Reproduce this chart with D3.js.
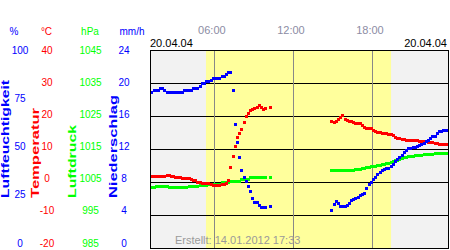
<!DOCTYPE html>
<html>
<head>
<meta charset="utf-8">
<script src="https://d3js.org/d3.v7.min.js"></script>
<style>
body { margin: 0; background: #fff; }
svg { display: block; font-family: "Liberation Sans", Arial, sans-serif; }
</style>
</head>
<body>
<svg width="450" height="250"></svg>
<script>
// first sample of each block (hours), samples every 10 min
let blockStart = [1.25, 14 + 55 / 60];
let stepHours = 1 / 6;

let humidityAm = [78.6, 79.6, 79.6, 79.6, 80.7, 80.7, 79.8, 78.6, 78.6, 78.6,
                  78.6, 78.6, 78.6, 78.6, 78.6, 79.6, 79.6, 79.6, 79.6, 80.8,
                  80.8, 80.8, 82.0, 83.5, 83.5, 84.5, 84.5, 84.8, 85.7, 86.0,
                  86.0, 86.0, 87.0, 87.0, 87.9, 88.7, 88.7, 79.8, 62.6, 53.5,
                  46.0, 39.4, 36.1, 33.8, 31.1, 28.8, 25.3, 23.2, 23.0, 21.7,
                  20.7, 20.7, 20.6, null, 21.2];
let humidityPm = [19.2, 22.2, 23.5, 22.7, 21.2, 21.2, 21.2, 21.5, 22.7, 24.2,
                  25.0, 25.5, 26.0, 26.8, 27.3, 27.8, 30.3, 32.1, 33.3, 34.6,
                  35.9, 37.4, 38.6, 39.4, 39.9, 40.2, 40.4, 41.2, 42.4, 43.7,
                  44.9, 46.0, 47.2, 48.6, 49.5, 50.3, 50.7, 50.9, 51.1, 51.5,
                  51.9, 52.3, 53.0, 53.8, 54.5, 55.8, 56.4, 56.8, 58.1, 58.9,
                  59.3, 59.6, 59.6, 59.6];

let tempAm = [1.8, 1.8, 1.8, 1.8, 1.8, 1.8, 1.8, 2.0, 2.0, 1.8,
              1.8, 1.5, 1.4, 1.4, 1.1, 1.1, 1.1, 1.1, 0.8, 0.5,
              0.5, 0.1, 0.1, -0.2, -0.2, -0.4, -0.4, -0.7, -0.8, -0.9,
              -0.9, -0.8, -0.6, -0.6, -0.2, 0.6, 4.5, 8.0, 10.9, 13.5,
              14.8, 16.2, 18.2, 20.0, 21.0, 21.7, 22.0, 22.3, 22.7, 23.2,
              22.6, 22.1, 22.3, null, 22.6];
let tempPm = [18.6, 18.3, 18.5, 19.1, 19.6, 20.3, 19.2, 18.8, 18.5, 18.4,
              18.3, 18.0, 17.9, 17.8, 17.4, 16.8, 16.5, 16.4, 16.3, 15.9,
              15.5, 15.2, 15.1, 14.9, 14.8, 14.7, 14.5, 14.4, 14.1, 13.6,
              13.4, 13.2, 13.1, 12.9, 12.8, 12.7, 12.7, 12.7, 12.7, 12.6,
              12.5, 12.5, 12.4, 12.3, 12.2, 12.1, 12.0, 11.9, 11.8, 11.6,
              11.5, 11.4, 11.4, 11.4];

let pressureAm = [1003.6, 1003.6, 1003.8, 1003.8, 1003.8, 1003.8, 1003.8, 1003.8, 1003.5, 1003.5,
                  1003.5, 1003.5, 1003.5, 1003.5, 1003.5, 1003.5, 1003.5, 1003.8, 1003.8, 1003.8,
                  1003.8, 1003.8, 1004.1, 1004.1, 1004.1, 1004.1, 1004.3, 1004.4, 1004.4, 1004.4,
                  1004.4, 1004.4, 1004.9, 1004.9, 1004.9, 1004.9, 1005.4, 1005.4, 1005.4, 1005.4,
                  1005.4, 1005.9, 1005.9, 1005.9, 1005.9, 1006.4, 1006.4, 1006.4, 1006.4, 1006.4,
                  1006.4, 1006.4, 1006.4, null, 1006.4];
let pressurePm = [1008.5, 1008.5, 1008.5, 1008.5, 1008.5, 1008.5, 1008.5, 1008.6, 1008.6, 1008.6,
                  1008.6, 1008.8, 1008.9, 1009.0, 1009.2, 1009.3, 1009.4, 1009.5, 1009.7, 1009.8,
                  1009.9, 1010.1, 1010.3, 1010.5, 1010.6, 1010.7, 1010.9, 1011.1, 1011.4, 1011.6,
                  1011.8, 1012.0, 1012.3, 1012.5, 1012.6, 1012.8, 1012.9, 1013.0, 1013.1, 1013.2,
                  1013.2, 1013.3, 1013.4, 1013.4, 1013.5, 1013.5, 1013.6, 1013.7, 1013.7, 1013.8,
                  1013.8, 1013.8, 1013.8, 1013.9];

let pctTicks = [0, 25, 50, 75, 100];
let tempTicks = [-20, -10, 0, 10, 20, 30, 40];
let pressTicks = [985, 995, 1005, 1015, 1025, 1035, 1045];
let rainTicks = [0, 4, 8, 12, 16, 20, 24];
let hourTicks = [6, 12, 18];
let hourLabels = ["06:00", "12:00", "18:00"];
let daylight = [5.4, 19.45];
let dateLabel = "20.04.04";
let createdLabel = "Erstellt: 14.01.2012 17:33";

var svg = d3.select("svg");
let plot = {left: 150, top: 50, right: 449, bottom: 248};

let x = d3.scaleLinear().domain([1.15, 23.85]).range([plot.left, plot.right]);
let yHum = d3.scaleLinear().domain([0, 100]).range([plot.bottom, plot.top]);
let yTemp = d3.scaleLinear().domain([-20, 40]).range([plot.bottom, plot.top]);
let yPress = d3.scaleLinear().domain([985, 1045]).range([plot.bottom, plot.top]);
// tick labels on the left are squeezed a little compared to the grid
let labelY = d3.scaleLinear().domain([0, 1]).range([243, plot.top]);

svg.append("clipPath").attr("id", "plotclip")
    .append("rect")
    .attr("x", plot.left).attr("y", plot.top)
    .attr("width", plot.right - plot.left).attr("height", plot.bottom - plot.top);

// night / day background
svg.append("rect")
    .attr("x", plot.left).attr("y", plot.top)
    .attr("width", plot.right - plot.left).attr("height", plot.bottom - plot.top)
    .attr("fill", "#f2f2f2");
svg.append("rect")
    .attr("x", x(daylight[0])).attr("y", plot.top)
    .attr("width", x(daylight[1]) - x(daylight[0])).attr("height", plot.bottom - plot.top)
    .attr("fill", "#ffff9c");

// grid
svg.append("g")
    .selectAll("line")
    .data(tempTicks.slice(1, -1))
    .enter().append("line")
    .attr("x1", plot.left).attr("x2", plot.right)
    .attr("y1", d => Math.round(yTemp(d)) + 0.5)
    .attr("y2", d => Math.round(yTemp(d)) + 0.5)
    .attr("stroke", "#000");
svg.append("g")
    .selectAll("line")
    .data(hourTicks)
    .enter().append("line")
    .attr("x1", d => Math.round(x(d)) + 0.5)
    .attr("x2", d => Math.round(x(d)) + 0.5)
    .attr("y1", plot.top).attr("y2", plot.bottom)
    .attr("stroke", "#888");

// series, drawn as little squares
function points(am, pm){
    let out = [];
    am.forEach((v, i) => { if(v !== null) out.push({t: blockStart[0] + i * stepHours, v: v}); });
    pm.forEach((v, i) => { if(v !== null) out.push({t: blockStart[1] + i * stepHours, v: v}); });
    return out;
}

let series = [
    {data: points(pressureAm, pressurePm), y: yPress, color: "#00ff00"},
    {data: points(tempAm, tempPm), y: yTemp, color: "#ff0000"},
    {data: points(humidityAm, humidityPm), y: yHum, color: "#0000ff"}
];

let marks = svg.append("g").attr("clip-path", "url(#plotclip)");
series.forEach(function(s){
    marks.append("g")
        .selectAll("rect")
        .data(s.data)
        .enter().append("rect")
        .attr("x", d => Math.round(x(d.t)) - 1)
        .attr("y", d => Math.round(s.y(d.v)) - 1)
        .attr("width", 3).attr("height", 3)
        .attr("fill", s.color);
});

// frame
svg.append("rect")
    .attr("x", plot.left + 0.5).attr("y", plot.top + 0.5)
    .attr("width", plot.right - plot.left - 1).attr("height", plot.bottom - plot.top)
    .attr("fill", "none").attr("stroke", "#000");

// hour labels and dates
svg.append("g")
    .selectAll("text")
    .data(hourTicks)
    .enter().append("text")
    .attr("x", d => x(d) - 2)
    .attr("y", 34)
    .attr("text-anchor", "middle")
    .attr("font-size", 11)
    .attr("fill", "#8c8ca4")
    .text((d, i) => hourLabels[i]);
svg.append("text")
    .attr("x", plot.left).attr("y", 47)
    .attr("font-size", 11)
    .text(dateLabel);
svg.append("text")
    .attr("x", plot.right - 2).attr("y", 47)
    .attr("text-anchor", "end")
    .attr("font-size", 11)
    .text(dateLabel);
svg.append("text")
    .attr("x", 175).attr("y", 244)
    .attr("font-size", 11)
    .attr("fill", "#9a9a9a")
    .text(createdLabel);

// value columns on the left
let columns = [
    {unit: "%", ticks: pctTicks, dom: [0, 100], tx: 20, ux: 14, color: "#0000ff", title: "Luftfeuchtigkeit", bx: 9, len: 118},
    {unit: "°C", ticks: tempTicks, dom: [-20, 40], tx: 47, ux: 46.5, color: "#ff0000", title: "Temperatur", bx: 38.5, len: 90},
    {unit: "hPa", ticks: pressTicks, dom: [985, 1045], tx: 90.5, ux: 90, color: "#00ff00", title: "Luftdruck", bx: 76, len: 73},
    {unit: "mm/h", ticks: rainTicks, dom: [0, 24], tx: 124, ux: 132, color: "#0000ff", title: "Niederschlag", bx: 117, len: 103}
];

columns.forEach(function(c){
    let g = svg.append("g").attr("fill", c.color).attr("font-size", 10);
    g.append("text")
        .attr("x", c.ux).attr("y", 35)
        .attr("text-anchor", "middle")
        .text(c.unit);
    g.selectAll("text.tick")
        .data(c.ticks)
        .enter().append("text")
        .attr("class", "tick")
        .attr("x", c.tx)
        .attr("y", d => labelY((d - c.dom[0]) / (c.dom[1] - c.dom[0])))
        .attr("dy", "0.36em")
        .attr("text-anchor", "middle")
        .text(d => d);
    g.append("text")
        .attr("transform", "translate(" + c.bx + ",198) rotate(-90)")
        .attr("font-weight", "bold")
        .attr("textLength", c.len)
        .attr("lengthAdjust", "spacingAndGlyphs")
        .text(c.title);
});
</script>
</body>
</html>
